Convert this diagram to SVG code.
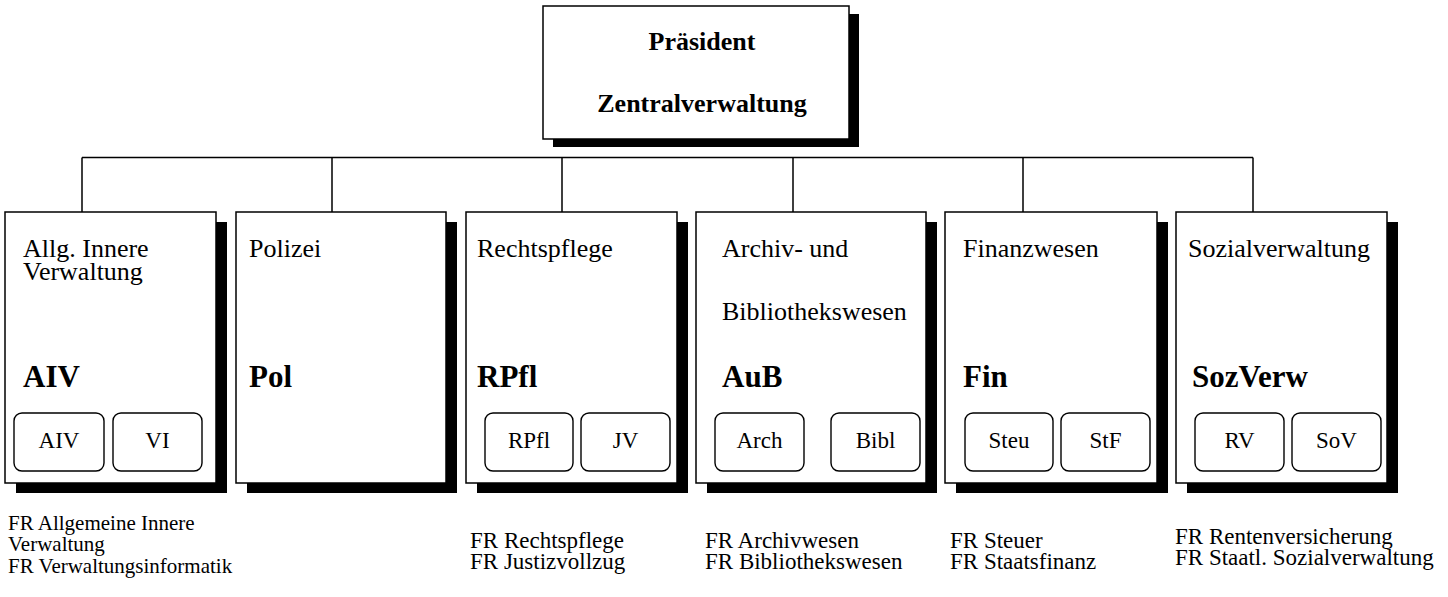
<svg xmlns="http://www.w3.org/2000/svg" width="1448" height="597" viewBox="0 0 1448 597">
<style>
text{font-family:"Liberation Serif","Times New Roman",serif;fill:#000}
.box{fill:#fff;stroke:#000;stroke-width:1.5}
.sh{fill:#000}
.sub{fill:#fff;stroke:#000;stroke-width:1.4}
.t{font-size:26px}
.b{font-size:31px;font-weight:bold}
.h{font-size:26px;font-weight:bold}
.s{font-size:23px}
.f{font-size:21px}
.g{font-size:23px}
.con{stroke:#000;stroke-width:1.5;fill:none}
</style>
<rect width="1448" height="597" fill="#fff"/>
<g id="connectors">
<path class="con" d="M82,157.5 H1253 M82,157.5 V212 M332,157.5 V212 M562,157.5 V212 M793,157.5 V212 M1023,157.5 V212 M1253,157.5 V212"/>
</g>
<g id="praesident">
<rect class="sh" x="553" y="14" width="306" height="133"/>
<rect class="box" x="543" y="6" width="306" height="133"/>
<text class="h" x="702" y="50" text-anchor="middle">Präsident</text>
<text class="h" x="702" y="112" text-anchor="middle">Zentralverwaltung</text>
</g>
<g id="aiv">
<rect class="sh" x="16" y="222" width="211" height="271"/>
<rect class="box" x="5" y="212" width="211" height="271"/>
<text class="t" x="23" y="257">Allg. Innere</text>
<text class="t" x="23" y="280">Verwaltung</text>
<text class="b" x="23" y="387">AIV</text>
<rect class="sub" x="14" y="413" width="90" height="58" rx="8"/>
<text class="s" x="59" y="448" text-anchor="middle">AIV</text>
<rect class="sub" x="113" y="413" width="89" height="58" rx="8"/>
<text class="s" x="157.5" y="448" text-anchor="middle">VI</text>
</g>
<g id="pol">
<rect class="sh" x="247" y="222" width="210" height="271"/>
<rect class="box" x="236" y="212" width="210" height="271"/>
<text class="t" x="249" y="257">Polizei</text>
<text class="b" x="249" y="387">Pol</text>
</g>
<g id="rpfl">
<rect class="sh" x="477" y="222" width="211" height="271"/>
<rect class="box" x="466" y="212" width="211" height="271"/>
<text class="t" x="477" y="257">Rechtspflege</text>
<text class="b" x="477" y="387">RPfl</text>
<rect class="sub" x="485" y="413" width="88" height="58" rx="8"/>
<text class="s" x="529" y="448" text-anchor="middle">RPfl</text>
<rect class="sub" x="581" y="413" width="89" height="58" rx="8"/>
<text class="s" x="625.5" y="448" text-anchor="middle">JV</text>
</g>
<g id="aub">
<rect class="sh" x="707" y="222" width="230" height="271"/>
<rect class="box" x="696" y="212" width="230" height="271"/>
<text class="t" x="722" y="257">Archiv- und</text>
<text class="t" x="722" y="320">Bibliothekswesen</text>
<text class="b" x="722" y="387">AuB</text>
<rect class="sub" x="715" y="413" width="89" height="58" rx="8"/>
<text class="s" x="759.5" y="448" text-anchor="middle">Arch</text>
<rect class="sub" x="831" y="413" width="89" height="58" rx="8"/>
<text class="s" x="875.5" y="448" text-anchor="middle">Bibl</text>
</g>
<g id="fin">
<rect class="sh" x="956" y="222" width="212" height="271"/>
<rect class="box" x="945" y="212" width="212" height="271"/>
<text class="t" x="963" y="257">Finanzwesen</text>
<text class="b" x="963" y="387">Fin</text>
<rect class="sub" x="965" y="413" width="88" height="58" rx="8"/>
<text class="s" x="1009" y="448" text-anchor="middle">Steu</text>
<rect class="sub" x="1061" y="413" width="89" height="58" rx="8"/>
<text class="s" x="1105.5" y="448" text-anchor="middle">StF</text>
</g>
<g id="sozverw">
<rect class="sh" x="1187" y="222" width="211" height="271"/>
<rect class="box" x="1176" y="212" width="211" height="271"/>
<text class="t" x="1188" y="257">Sozialverwaltung</text>
<text class="b" x="1192" y="387">SozVerw</text>
<rect class="sub" x="1195" y="413" width="89" height="58" rx="8"/>
<text class="s" x="1239.5" y="448" text-anchor="middle">RV</text>
<rect class="sub" x="1292" y="413" width="89" height="58" rx="8"/>
<text class="s" x="1336.5" y="448" text-anchor="middle">SoV</text>
</g>
<g id="fr-aiv">
<text class="f" x="8" y="530">FR Allgemeine Innere</text>
<text class="f" x="8" y="551">Verwaltung</text>
<text class="f" x="8" y="573">FR Verwaltungsinformatik</text>
</g>
<g id="fr-rpfl">
<text class="g" x="470" y="548">FR Rechtspflege</text>
<text class="g" x="470" y="569">FR Justizvollzug</text>
</g>
<g id="fr-aub">
<text class="g" x="705" y="548">FR Archivwesen</text>
<text class="g" x="705" y="569">FR Bibliothekswesen</text>
</g>
<g id="fr-fin">
<text class="g" x="950" y="548">FR Steuer</text>
<text class="g" x="950" y="569">FR Staatsfinanz</text>
</g>
<g id="fr-sozverw">
<text class="g" x="1175" y="544">FR Rentenversicherung</text>
<text class="g" x="1175" y="565">FR Staatl. Sozialverwaltung</text>
</g>
</svg>
